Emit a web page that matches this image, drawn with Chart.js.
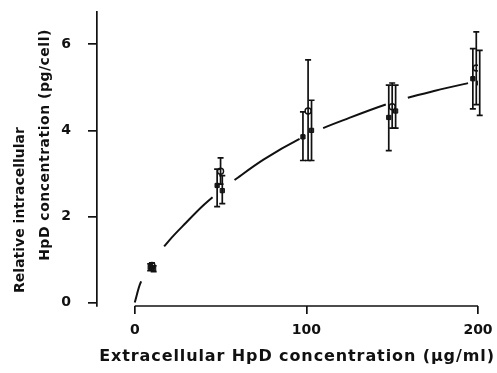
<!DOCTYPE html>
<html>
<head>
<meta charset="utf-8">
<script src="https://cdn.jsdelivr.net/npm/chart.js@4/dist/chart.umd.min.js"></script>
<style>
  html, body { margin: 0; padding: 0; background: #fff; }
  #wrap { width: 497px; height: 373px; }
</style>
</head>
<body>
<div id="wrap"><canvas id="uptakeChart" width="497" height="373"></canvas></div>
<script>
  // fitted saturation curve
  const curveX = [0, 3, 10, 20, 30, 40, 50, 60, 75, 100, 125, 150, 175, 200];
  const curveY = [0, 0.42, 0.92, 1.44, 1.86, 2.26, 2.6, 2.9, 3.32, 3.88, 4.29, 4.65, 4.92, 5.15];

  // experiment A (filled squares)
  const xA = [9, 48, 98, 148, 197];
  const yA = [0.82, 2.72, 3.85, 4.3, 5.2];
  const loA = [0.74, 2.23, 3.3, 3.53, 4.5];
  const hiA = [0.9, 3.1, 4.43, 5.05, 5.9];

  // experiment B (open circles)
  const xB = [10, 50, 101, 150, 199];
  const yB = [0.86, 3.05, 4.45, 4.55, 5.45];
  const loB = [0.8, 2.75, 3.3, 4.05, 4.6];
  const hiB = [0.92, 3.36, 5.64, 5.1, 6.29];

  // experiment C (filled squares)
  const xC = [11, 51, 103, 152, 201];
  const yC = [0.78, 2.6, 4.0, 4.45, 5.1];
  const loC = [0.72, 2.3, 3.3, 4.05, 4.35];
  const hiC = [0.85, 2.95, 4.7, 5.05, 5.86];

  const xTicks = [0, 100, 200];
  const yTicks = [0, 2, 4, 6];
  const yTitle = ["Relative intracellular", "HpD concentration (pg/cell)"];
  const xTitle = "Extracellular HpD concentration (\u00b5g/ml)";

  const ink = "#111";
  const font = "'DejaVu Sans', sans-serif";

  const pts = (xs, ys, lo, hi) => xs.map((x, i) => ({ x: x, y: ys[i], lo: lo ? lo[i] : null, hi: hi ? hi[i] : null }));

  // error bars with small caps
  const errorBars = {
    id: "errorBars",
    afterDatasetsDraw(chart) {
      const ctx = chart.ctx;
      const xs = chart.scales.x, ys = chart.scales.y;
      ctx.save();
      ctx.strokeStyle = ink;
      ctx.lineWidth = 1.7;
      chart.data.datasets.forEach(ds => {
        if (!ds.errors) return;
        ds.data.forEach(p => {
          const px = xs.getPixelForValue(p.x);
          const top = ys.getPixelForValue(p.hi);
          const bot = ys.getPixelForValue(p.lo);
          ctx.beginPath();
          ctx.moveTo(px, top); ctx.lineTo(px, bot);
          ctx.moveTo(px - 3, top); ctx.lineTo(px + 3, top);
          ctx.moveTo(px - 3, bot); ctx.lineTo(px + 3, bot);
          ctx.stroke();
        });
      });
      ctx.restore();
    }
  };

  // x axis line only spans 0..200; axis titles drawn with the scan's spacing
  const axisDecor = {
    id: "axisDecor",
    afterDraw(chart) {
      const ctx = chart.ctx;
      const xs = chart.scales.x;
      const b = chart.chartArea.bottom;
      ctx.save();
      ctx.strokeStyle = ink;
      ctx.lineWidth = 1.7;
      ctx.beginPath();
      ctx.moveTo(xs.getPixelForValue(xTicks[0]), b);
      ctx.lineTo(xs.getPixelForValue(xTicks[xTicks.length - 1]), b);
      ctx.stroke();

      ctx.fillStyle = ink;
      ctx.textAlign = "center";
      ctx.textBaseline = "middle";

      ctx.font = "bold 16px " + font;
      ctx.letterSpacing = "0.9px";
      ctx.fillText(xTitle, 297, 357);

      ctx.font = "bold 14px " + font;
      ctx.letterSpacing = "0px";
      ctx.translate(20, 210);
      ctx.rotate(-Math.PI / 2);
      ctx.fillText(yTitle[0], 0, 0);
      ctx.rotate(Math.PI / 2);
      ctx.translate(25, -65);
      ctx.rotate(-Math.PI / 2);
      ctx.letterSpacing = "0.5px";
      ctx.fillText(yTitle[1], 0, 0);
      ctx.restore();
    }
  };

  const ctx = document.getElementById("uptakeChart").getContext("2d");
  const uptakeChart = new Chart(ctx, {
    type: "scatter",
    data: {
      datasets: [
        {
          data: pts(curveX, curveY),
          showLine: true,
          borderColor: ink,
          borderWidth: 2,
          borderDash: [22, 42, 69, 28, 77, 26, 67, 23, 62, 40],
          pointRadius: 0,
          cubicInterpolationMode: "monotone",
        },
        {
          data: pts(xA, yA, loA, hiA), errors: true,
          pointStyle: "rect", pointRadius: 3,
          backgroundColor: "#222", borderColor: ink, borderWidth: 1,
        },
        {
          data: pts(xB, yB, loB, hiB), errors: true,
          pointStyle: "circle", pointRadius: 3,
          backgroundColor: "#fff", borderColor: ink, borderWidth: 1.4,
        },
        {
          data: pts(xC, yC, loC, hiC), errors: true,
          pointStyle: "rect", pointRadius: 3,
          backgroundColor: "#333", borderColor: ink, borderWidth: 1,
        },
      ],
    },
    options: {
      responsive: false,
      animation: false,
      events: [],
      layout: { padding: { top: 12, right: 19, left: 0, bottom: 0 } },
      plugins: { legend: { display: false }, tooltip: { enabled: false } },
      scales: {
        x: {
          type: "linear",
          min: -22,
          max: 200,
          afterBuildTicks: s => { s.ticks = xTicks.map(v => ({ value: v })); },
          afterFit: s => { s.height = 67; s.paddingLeft = 0; s.paddingRight = 0; },
          border: { display: false },
          grid: { drawOnChartArea: false, drawTicks: true, tickLength: 8, color: ink, lineWidth: 1.7 },
          ticks: { color: ink, padding: 8, maxRotation: 0, font: { family: font, size: 14, weight: "bold" } },
        },
        y: {
          min: -0.08,
          max: 6.75,
          afterBuildTicks: s => { s.ticks = yTicks.map(v => ({ value: v })); },
          afterFit: s => { s.width = 97; s.paddingTop = 0; s.paddingBottom = 0; },
          border: { display: true, color: ink, width: 1.7 },
          grid: { drawOnChartArea: false, drawTicks: true, tickLength: 9, color: ink, lineWidth: 1.7 },
          ticks: { color: ink, padding: 17, font: { family: font, size: 14, weight: "bold" } },
        },
      },
    },
    plugins: [errorBars, axisDecor],
  });
</script>
</body>
</html>
